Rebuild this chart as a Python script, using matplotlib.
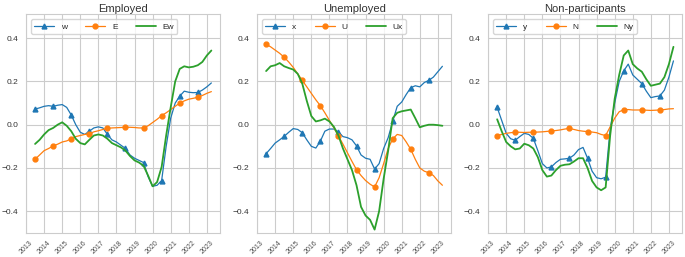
import numpy as np
import matplotlib.pyplot as plt
import seaborn as sns

# quarterly points, mid-2013 to early 2023
quarters = np.arange(2013.5, 2023.3, 0.25)
year_labels = [str(y) for y in range(2013, 2024)]

# Employed
w = [0.072, 0.078, 0.085, 0.088, 0.085, 0.090, 0.093, 0.080, 0.045, 0.000,
     -0.035, -0.045, -0.030, -0.015, -0.010, -0.015, -0.045, -0.070, -0.080, -0.095,
     -0.110, -0.140, -0.155, -0.165, -0.175, -0.240, -0.285, -0.280, -0.258, -0.100,
     0.030, 0.100, 0.132, 0.155, 0.150, 0.148, 0.149, 0.160, 0.175, 0.193]
E = [-0.160, -0.140, -0.120, -0.110, -0.098, -0.090, -0.080, -0.075, -0.065, -0.055,
     -0.050, -0.045, -0.042, -0.033, -0.028, -0.022, -0.017, -0.015, -0.014, -0.013,
     -0.012, -0.012, -0.013, -0.015, -0.015, -0.005, 0.010, 0.025, 0.042, 0.055,
     0.070, 0.085, 0.100, 0.110, 0.118, 0.122, 0.127, 0.135, 0.145, 0.153]
Ew = [-0.089, -0.070, -0.045, -0.025, -0.015, 0.000, 0.011, -0.005, -0.030, -0.065,
      -0.085, -0.091, -0.070, -0.050, -0.045, -0.050, -0.065, -0.085, -0.095, -0.105,
      -0.120, -0.145, -0.165, -0.175, -0.190, -0.235, -0.285, -0.265, -0.195, -0.050,
      0.080, 0.200, 0.258, 0.270, 0.265, 0.268, 0.275, 0.290, 0.320, 0.343]

# Unemployed
x = [-0.134, -0.110, -0.085, -0.070, -0.054, -0.035, -0.018, -0.022, -0.037, -0.070,
     -0.100, -0.108, -0.076, -0.030, -0.020, -0.020, -0.034, -0.055, -0.060, -0.070,
     -0.098, -0.140, -0.155, -0.160, -0.205, -0.180, -0.110, -0.060, 0.015, 0.085,
     0.105, 0.140, 0.171, 0.180, 0.175, 0.195, 0.205, 0.220, 0.245, 0.270]
U = [0.372, 0.360, 0.345, 0.330, 0.312, 0.290, 0.265, 0.235, 0.205, 0.175,
     0.145, 0.115, 0.088, 0.055, 0.020, -0.015, -0.052, -0.090, -0.130, -0.170,
     -0.208, -0.235, -0.258, -0.275, -0.288, -0.245, -0.180, -0.110, -0.066, -0.045,
     -0.050, -0.080, -0.114, -0.160, -0.200, -0.215, -0.222, -0.235, -0.260, -0.280]
Ux = [0.248, 0.270, 0.275, 0.285, 0.270, 0.262, 0.255, 0.235, 0.190, 0.110,
      0.040, 0.015, 0.020, 0.028, 0.015, -0.010, -0.050, -0.110, -0.160, -0.210,
      -0.280, -0.380, -0.420, -0.440, -0.485, -0.400, -0.250, -0.120, 0.030, 0.055,
      0.062, 0.066, 0.070, 0.030, -0.012, -0.005, 0.000, 0.000, -0.002, -0.005]

# Non-participants
y = [0.080, 0.020, -0.040, -0.065, -0.072, -0.055, -0.040, -0.045, -0.063, -0.120,
     -0.180, -0.200, -0.195, -0.175, -0.160, -0.158, -0.155, -0.140, -0.115, -0.105,
     -0.155, -0.215, -0.245, -0.250, -0.243, -0.020, 0.100, 0.200, 0.249, 0.280,
     0.230, 0.210, 0.190, 0.155, 0.125, 0.130, 0.133, 0.160, 0.220, 0.295]
N = [-0.050, -0.045, -0.040, -0.037, -0.035, -0.035, -0.036, -0.035, -0.035, -0.034,
     -0.033, -0.031, -0.029, -0.027, -0.024, -0.020, -0.017, -0.022, -0.027, -0.030,
     -0.032, -0.034, -0.037, -0.045, -0.050, -0.010, 0.030, 0.060, 0.069, 0.070,
     0.068, 0.068, 0.068, 0.067, 0.066, 0.067, 0.068, 0.070, 0.073, 0.074]
Ny = [0.025, -0.030, -0.080, -0.100, -0.114, -0.110, -0.088, -0.095, -0.110, -0.150,
      -0.210, -0.240, -0.235, -0.210, -0.190, -0.185, -0.183, -0.170, -0.155, -0.155,
      -0.200, -0.260, -0.290, -0.303, -0.290, -0.050, 0.120, 0.230, 0.320, 0.343,
      0.280, 0.260, 0.245, 0.210, 0.180, 0.185, 0.190, 0.220, 0.280, 0.360]

panels = [
    ('Employed', w, E, Ew, ['w', 'E', 'Ew']),
    ('Unemployed', x, U, Ux, ['x', 'U', 'Ux']),
    ('Non-participants', y, N, Ny, ['y', 'N', 'Ny']),
]

sns.set_style('whitegrid')
plt.rcParams['font.family'] = ['Liberation Sans', 'DejaVu Sans']

fig, axes = plt.subplots(1, 3, figsize=(6.85, 2.57), dpi=100)
fig.subplots_adjust(left=0.038, right=0.996, top=0.944, bottom=0.094, wspace=0.19)

for ax, (title, s1, s2, s3, names) in zip(axes, panels):
    ax.plot(quarters, s1, color='#1f77b4', lw=0.9, marker='^', markersize=3.5,
            markevery=4, label=names[0])
    ax.plot(quarters, s2, color='#ff7f0e', lw=0.9, marker='o', markersize=3.5,
            markevery=4, label=names[1])
    ax.plot(quarters, s3, color='#2ca02c', lw=1.3, label=names[2])
    ax.set_title(title, fontsize=8, pad=2, color='.2')
    ax.set_ylim(-0.5, 0.51)
    ax.set_yticks([-0.4, -0.2, 0.0, 0.2, 0.4])
    ax.set_xticks(range(2013, 2024))
    ax.set_xticklabels(year_labels, rotation=45, fontsize=5, color='.3')
    ax.tick_params(axis='y', labelsize=6, pad=2, labelcolor='.2')
    ax.tick_params(axis='x', pad=1)
    ax.legend(loc='upper left', ncol=3, fontsize=6, handlelength=2.4,
              columnspacing=2.2, borderaxespad=0.6)

fig.savefig('out.png', dpi=100)
